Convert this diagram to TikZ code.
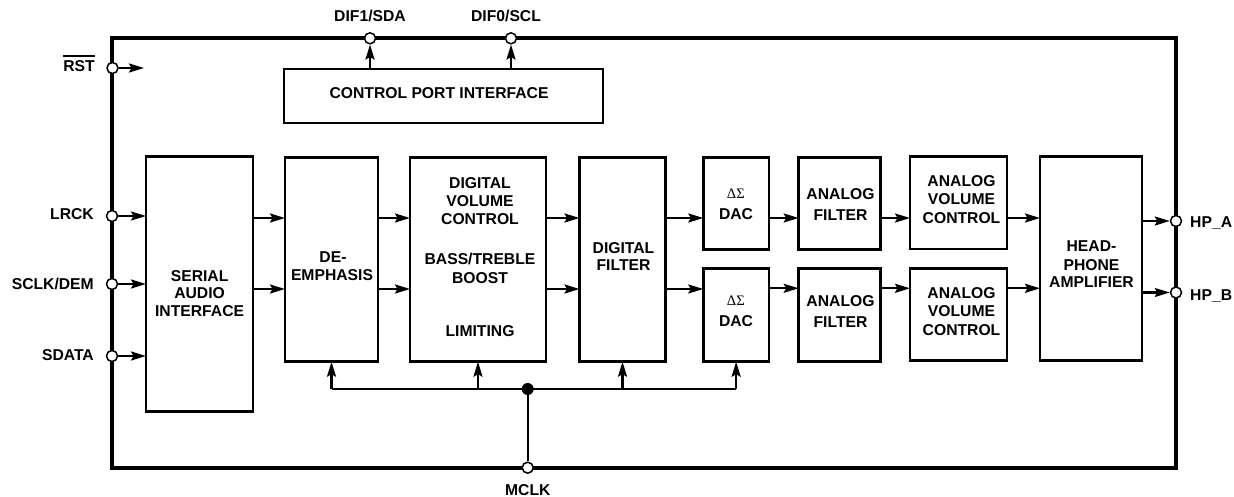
\documentclass[tikz,border=0pt]{standalone}
\usepackage{fontspec}
\setmainfont{Liberation Sans}
\newfontfamily\greekserif{Liberation Serif}
\usetikzlibrary{arrows.meta}
\newcommand\mkbox[5]{\node[box,minimum width={#4-#2},minimum height={#5-#3}] (#1) at ({(#2+#4)/2},{(#3+#5)/2}) {};}
\begin{document}
\begin{tikzpicture}[x=1pt,y=-1pt,
  box/.style={draw,line width=2.6pt,rectangle,inner sep=0pt,outer sep=0pt},
  frame/.style={draw,line width=3.8pt,rectangle,inner sep=0pt,outer sep=0pt},
  arr/.style={line width=2.1pt,-{Stealth[length=15pt,width=9pt,inset=2.5pt]}},
  wire/.style={line width=2.1pt},
  pin/.style={circle,draw,fill=white,line width=1.5pt,minimum size=11pt,inner sep=0pt},
  dot/.style={circle,fill=black,minimum size=12pt,inner sep=0pt},
  txt/.style={font=\bfseries\fontsize{15.7}{18}\selectfont,inner sep=0pt,anchor=base},
  gk/.style={font=\greekserif\fontsize{14.5}{16}\selectfont,inner sep=0pt,anchor=base}]
\useasboundingbox (0,0) rectangle (1234,497);

% chip outline
\node[frame,minimum width=1064,minimum height=429.4] (chip) at (644,253) {};

% blocks
\mkbox{cpi}{284}{69}{603}{123}
\mkbox{ser}{146}{156.7}{253}{411.7}
\mkbox{de}{285}{157.5}{378}{361.7}
\mkbox{dvc}{410}{157.3}{546}{361.7}
\mkbox{df}{579.5}{157.3}{665.5}{361.7}
\mkbox{dacA}{703.3}{157.5}{769}{249.3}
\mkbox{dacB}{703.3}{268.5}{769}{361.7}
\mkbox{afA}{798.7}{157.3}{880.5}{249.3}
\mkbox{afB}{798.7}{268.3}{880.5}{361.7}
\mkbox{avcA}{910}{156.7}{1007}{249}
\mkbox{avcB}{910}{268.3}{1007}{360.7}
\mkbox{hp}{1040}{156.7}{1142}{360.7}

% block texts
\node[txt] (t01) at (439,98.3) {CONTROL PORT INTERFACE};
\node[txt] (t02) at (199.6,281) {SERIAL};
\node[txt] (t03) at (199.6,298.5) {AUDIO};
\node[txt] (t04) at (199.6,316) {INTERFACE};
\node[txt] (t05) at (333,262.7) {DE-};
\node[txt] (t06) at (332,280.3) {EMPHASIS};
\node[txt] (t07) at (480,189) {DIGITAL};
\node[txt] (t08) at (480,206.7) {VOLUME};
\node[txt] (t09) at (480,224.3) {CONTROL};
\node[txt] (t10) at (480,265) {BASS/TREBLE};
\node[txt] (t11) at (480,283.3) {BOOST};
\node[txt] (t12) at (480,336.7) {LIMITING};
\node[txt] (t13) at (623.5,253.3) {DIGITAL};
\node[txt] (t14) at (623.5,270.5) {FILTER};
\node[gk]  (t15) at (735.8,198.3) {ΔΣ};
\node[txt] (t16) at (736,220) {DAC};
\node[gk]  (t17) at (735.8,305) {ΔΣ};
\node[txt] (t18) at (736,326.7) {DAC};
\node[txt] (t19) at (840.5,200) {ANALOG};
\node[txt] (t20) at (840.5,220.7) {FILTER};
\node[txt] (t21) at (840.5,306.7) {ANALOG};
\node[txt] (t22) at (840.5,327.3) {FILTER};
\node[txt] (t23) at (961.5,186.7) {ANALOG};
\node[txt] (t24) at (961.5,205) {VOLUME};
\node[txt] (t25) at (961.5,223.3) {CONTROL};
\node[txt] (t26) at (961.5,298.3) {ANALOG};
\node[txt] (t27) at (961.5,316.7) {VOLUME};
\node[txt] (t28) at (961.5,335.7) {CONTROL};
\node[txt] (t29) at (1091.5,251.7) {HEAD-};
\node[txt] (t30) at (1091.5,270) {PHONE};
\node[txt] (t31) at (1091.5,287.7) {AMPLIFIER};

% row reference coordinates
\coordinate (rA) at (0,218);
\coordinate (rB) at (0,289);
\coordinate (rC) at (0,288.3);
\coordinate (rstEnd) at (144,68);

% signal path
\foreach \a/\b in {ser/de,de/dvc,dvc/df,df/dacA,dacA/afA,afA/avcA,avcA/hp}
  \draw[arr] (\a.east |- rA) -- (\b.west |- rA);
\draw[arr] (ser.east |- rB) -- (de.west |- rB);
\draw[arr] (de.east |- rB) -- (dvc.west |- rB);
\draw[arr] (dvc.east |- rB) -- (df.west |- rB);
\draw[arr] (df.east |- rB) -- (dacB.west |- rB);
\draw[arr] (dacB.east |- rC) -- (afB.west |- rC);
\draw[arr] (afB.east |- rC) -- (avcB.west |- rC);
\draw[arr] (avcB.east |- rC) -- (hp.west |- rC);

% clock bus
\node[dot] (jn) at (527.7,389) {};
\draw[wire] (de.south |- jn) -- (dacB.south |- jn);
\foreach \b in {de,dvc,df,dacB}
  \draw[arr] (\b.south |- jn) -- (\b.south);

% pins
\node[pin] (rst)  at (112.5,68) {};
\node[pin] (lrck) at (112,216) {};
\node[pin] (sclk) at (112,284) {};
\node[pin] (sdat) at (112,356) {};
\node[pin] (dif1) at (370,38.3) {};
\node[pin] (dif0) at (511,38.3) {};
\node[pin] (hpa)  at (1176,221) {};
\node[pin] (hpb)  at (1176,292.5) {};
\node[pin] (mclk) at (527.7,467.7) {};

\draw[wire] (mclk) -- (jn);
\draw[arr] (rst) -- (rstEnd);
\draw[arr] (lrck) -- (lrck -| ser.west);
\draw[arr] (sclk) -- (sclk -| ser.west);
\draw[arr] (sdat) -- (sdat -| ser.west);
\draw[arr] (cpi.north -| dif1) -- (dif1);
\draw[arr] (cpi.north -| dif0) -- (dif0);
\draw[arr] (hp.east |- hpa) -- (hpa);
\draw[arr] (hp.east |- hpb) -- (hpb);

% pin labels
\node[txt,anchor=base east] (lrst) at (95,71.7) {RST};
\draw[line width=1.7pt] ([yshift=4.5pt]lrst.north west) -- ([yshift=4.5pt]lrst.north east);
\node[txt,anchor=base east] (llrck) at (94,219) {LRCK};
\node[txt,anchor=base east] (lsclk) at (94,289) {SCLK/DEM};
\node[txt,anchor=base east] (lsdat) at (94,360) {SDATA};
\node[txt] (ldif1) at (370,21.7) {DIF1/SDA};
\node[txt] (ldif0) at (506,21.7) {DIF0/SCL};
\node[txt,anchor=base west] (lhpa) at (1190,227.3) {HP\_A};
\node[txt,anchor=base west] (lhpb) at (1190,300) {HP\_B};
\node[txt] (lmclk) at (527.8,495) {MCLK};
\end{tikzpicture}
\end{document}
